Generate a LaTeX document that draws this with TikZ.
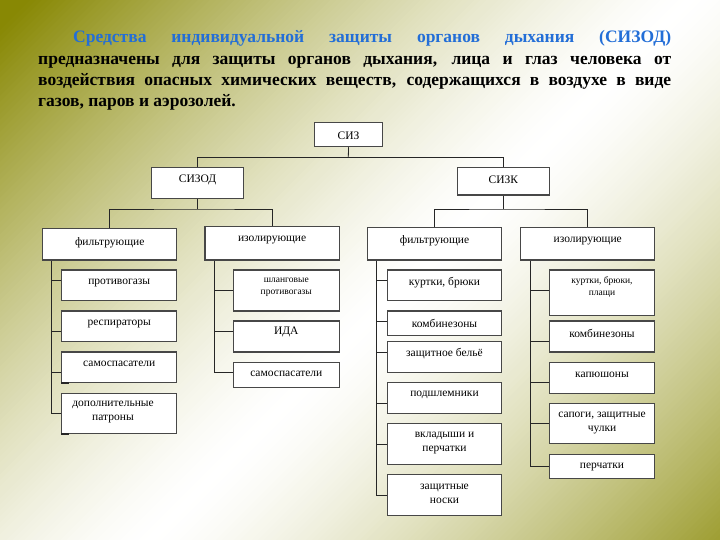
\documentclass[tikz,border=0pt]{standalone}
\usepackage{fontspec}
\setmainfont{Liberation Serif}
\usetikzlibrary{calc}
\definecolor{bgol}{RGB}{136,136,4}
\definecolor{ttlblue}{RGB}{35,110,215}
\tikzset{
  boxs/.style={draw=black!72, line width=1.1pt, fill=white, inner sep=0pt},
  txt/.style={font=\fontsize{11.5}{14}\selectfont, align=center, inner sep=0pt},
  smalltxt/.style={font=\fontsize{9.5}{12}\selectfont, align=center, inner sep=0pt},
  conn/.style={draw=black!85, line width=0.8pt},
  darkmark/.style={draw=black!85, line width=1.8pt}
}
% \mybox[style]{name}{x1}{y1}{x2}{y2}{text y}{text}
\newcommand{\mybox}[8][txt]{%
  \node[boxs, minimum width={#5-#3}, minimum height={#6-#4}] (#2) at ({(#3+#5)/2},{(#4+#6)/2}) {};
  \node[#1] (#2t) at ({(#3+#5)/2},#7) {#8};}
\begin{document}
\begin{tikzpicture}[x=1pt,y=-1pt]
\useasboundingbox (0,0) rectangle (720,540);
% background gradient
\begin{scope}
  \clip (0,0) rectangle (720,540);
  \foreach \t in {0,6,...,1260}{
    \pgfmathsetmacro\p{100*(max(0.001,min(1,abs(\t+3-690)/660)))^1.4}
    \fill[bgol!\p!white] (\t,0) -- (\t+7,0) -- (\t+7-540,540) -- (\t-540,540) -- cycle;
  }
\end{scope}
% title (base anchor = baseline of last line)
\node[anchor=base west, inner sep=0pt, align=left, font=\fontsize{17.5}{21.4}\selectfont\bfseries] (title) at (38,107)
{\hspace*{35pt}\makebox[598pt][s]{\color{ttlblue}Средства индивидуальной защиты органов дыхания (СИЗОД)}\\
\makebox[633pt][s]{предназначены для защиты органов дыхания, лица и глаз человека от}\\
\makebox[633pt][s]{воздействия опасных химических веществ, содержащихся в воздухе в виде}\\
газов, паров и аэрозолей.};
% boxes
\mybox{siz}{314.3}{122.3}{382.7}{146.7}{136}{СИЗ}
\mybox{sizod}{151.7}{167.7}{243.3}{198.3}{180}{СИЗОД}
\mybox{sizk}{457.3}{167.7}{549.3}{195}{180}{СИЗК}
\mybox{f1}{42.7}{228.3}{176.7}{260}{242.5}{фильтрующие}
\mybox{i1}{205}{226.7}{339.3}{260}{240}{изолирующие}
\mybox{f2}{367.3}{227.7}{501.7}{260}{241}{фильтрующие}
\mybox{i2}{520.7}{227.7}{654.7}{260}{241}{изолирующие}
% column 1
\mybox{c1a}{61.7}{270}{176.7}{300.7}{283}{противогазы}
\mybox{c1b}{61.7}{311}{176.7}{341.7}{324}{респираторы}
\mybox{c1c}{61.7}{352}{176.7}{382.7}{364}{самоспасатели}
\node[boxs, minimum width=115pt, minimum height=40pt] (c1d) at (119.2,413.3) {};
\node[txt] (c1dt) at (113,412.5) {дополнительные\\патроны};
% column 2
\mybox[smalltxt]{c2a}{233.3}{270}{339.3}{311}{287.3}{шланговые\\противогазы}
\mybox{c2b}{233.3}{321}{339.3}{352}{331.7}{ИДА}
\mybox{c2c}{233.3}{362.3}{339.3}{387.7}{374}{самоспасатели}
% column 3
\mybox{c3a}{387.3}{270}{501.7}{300.7}{283}{куртки, брюки}
\mybox{c3b}{387.3}{311}{501.7}{335.3}{323.7}{комбинезоны}
\mybox{c3c}{387.3}{341.7}{501.7}{372.3}{354}{защитное бельё}
\mybox{c3d}{387.3}{382.7}{501.7}{413.3}{395}{подшлемники}
\mybox{c3e}{387.3}{423.3}{501.7}{464.3}{443.3}{вкладыши и\\перчатки}
\mybox{c3f}{387.3}{474.3}{501.7}{515.7}{493.8}{защитные\\носки}
% column 4
\mybox[smalltxt]{c4a}{549.3}{270}{654.7}{315.7}{287.3}{куртки, брюки,\\плащи}
\mybox{c4b}{549.3}{321}{654.7}{352}{333.7}{комбинезоны}
\mybox{c4c}{549.3}{362.3}{654.7}{393.3}{375}{капюшоны}
\mybox{c4d}{549.3}{403.3}{654.7}{443.3}{422.8}{сапоги, защитные\\чулки}
\mybox{c4e}{549.3}{454.3}{654.7}{478.7}{466.7}{перчатки}
% connectors: top levels
\coordinate (j0) at (348.3,157.7);
\draw[conn] (siz.south) -- (j0);
\draw[conn] (sizod.north) |- (j0) -| (sizk.north);
\coordinate (b1) at (sizod.south |- 0,209);
\draw[conn] (sizod.south) -- (b1);
\draw[conn] (f1.north) |- (b1) -| (i1.north);
\coordinate (b2) at (sizk.south |- 0,209);
\draw[conn] (sizk.south) -- (b2);
\draw[conn] (f2.north) |- (b2) -| (i2.north);
% trunks
\coordinate (t1) at ([xshift=9.3pt]f1.south west);
\coordinate (t2) at ([xshift=10pt]i1.south west);
\coordinate (t3) at ([xshift=10pt]f2.south west);
\coordinate (t4) at ([xshift=10pt]i2.south west);
\draw[conn] (t1) -- (t1 |- c1d.west) -- (c1d.west);
\draw[conn] (t1 |- 0,280) -- (c1a.west |- 0,280);
\draw[conn] (t1 |- 0,331.7) -- (c1b.west |- 0,331.7);
\draw[conn] (t1 |- 0,372.7) -- (c1c.west |- 0,372.7);
\draw[conn] (t2) -- (t2 |- 0,372.3) -- (c2c.west |- 0,372.3);
\draw[conn] (t2 |- 0,290.7) -- (c2a.west |- 0,290.7);
\draw[conn] (t2 |- 0,331.7) -- (c2b.west |- 0,331.7);
\draw[conn] (t3) -- (t3 |- 0,495.7) -- (c3f.west |- 0,495.7);
\draw[conn] (t3 |- 0,280.7) -- (c3a.west |- 0,280.7);
\draw[conn] (t3 |- 0,321) -- (c3b.west |- 0,321);
\draw[conn] (t3 |- 0,352) -- (c3c.west |- 0,352);
\draw[conn] (t3 |- 0,403.3) -- (c3d.west |- 0,403.3);
\draw[conn] (t3 |- 0,444) -- (c3e.west |- 0,444);
\draw[conn] (t4) -- (t4 |- c4e.west) -- (c4e.west);
\draw[conn] (t4 |- 0,290.7) -- (c4a.west |- 0,290.7);
\draw[conn] (t4 |- 0,341.7) -- (c4b.west |- 0,341.7);
\draw[conn] (t4 |- 0,382.7) -- (c4c.west |- 0,382.7);
\draw[conn] (t4 |- 0,423.3) -- (c4d.west |- 0,423.3);
% small dark marks
\draw[darkmark] (c1c.south west) -- ++(8,0);
\draw[darkmark] (c1d.south west) -- ++(8,0);
\end{tikzpicture}
\end{document}
